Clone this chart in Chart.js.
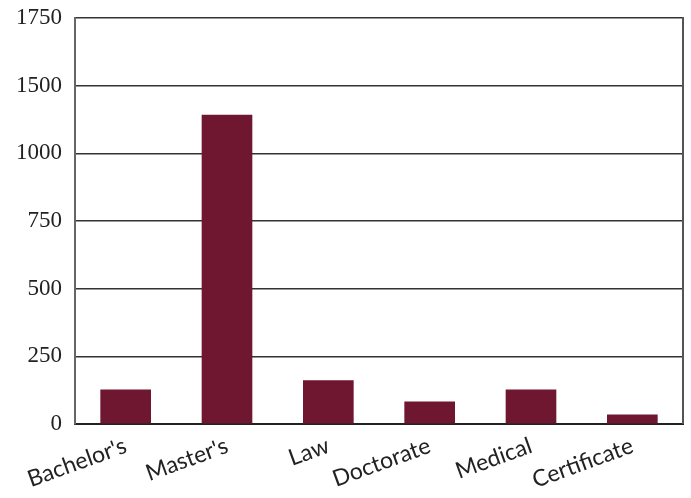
<!DOCTYPE html>
<html>
<head>
<meta charset="utf-8">
<script src="https://cdn.jsdelivr.net/npm/chart.js@4/dist/chart.umd.min.js"></script>
<style>
html,body{margin:0;padding:0;background:#fff;}
#wrap{width:691px;height:498px;}
</style>
</head>
<body>
<div id="wrap"><canvas id="c" width="691" height="498"></canvas></div>
<script>
const categories = ["Bachelor's", "Master's", "Law", "Doctorate", "Medical", "Certificate"];
const values = [126, 1141, 160, 82, 126, 34];
const yTickLabels = ["0", "250", "500", "750", "1000", "1500", "1750"];

const rightBorder = {
  id: 'rightBorder',
  afterDraw(chart) {
    const {ctx, chartArea} = chart;
    ctx.save();
    ctx.strokeStyle = '#555';
    ctx.lineWidth = 2;
    ctx.beginPath();
    ctx.moveTo(chartArea.right, chartArea.top - 1);
    ctx.lineTo(chartArea.right, chartArea.bottom);
    ctx.stroke();
    ctx.restore();
  }
};

new Chart(document.getElementById('c'), {
  type: 'bar',
  data: {
    labels: categories,
    datasets: [{
      data: values,
      backgroundColor: '#6f1630',
      barThickness: 50
    }]
  },
  options: {
    responsive: false,
    animation: false,
    devicePixelRatio: 1,
    layout: { padding: { top: 18, right: 8, left: 0, bottom: 0 } },
    plugins: { legend: { display: false }, tooltip: { enabled: false } },
    scales: {
      x: {
        offset: true,
        grid: { display: false, drawTicks: false },
        border: { color: '#222', width: 2 },
        ticks: {
          color: '#222',
          font: { family: 'Lato', size: 23 },
          minRotation: 20,
          maxRotation: 20,
          padding: 8
        },
        afterFit(scale) { scale.height = 74; scale.paddingLeft = 0; scale.paddingRight = 0; }
      },
      y: {
        min: 0,
        max: 1500,
        grid: { color: '#333', lineWidth: 1.5, drawTicks: false },
        border: { color: '#666', width: 2 },
        ticks: {
          stepSize: 250,
          color: '#222',
          font: { family: 'Liberation Serif', size: 23 },
          padding: 13,
          callback: function(v, i) { return yTickLabels[i]; }
        },
        afterFit(scale) { scale.width = 75; scale.paddingTop = 0; scale.paddingBottom = 0; }
      }
    }
  },
  plugins: [rightBorder]
});
</script>
</body>
</html>
